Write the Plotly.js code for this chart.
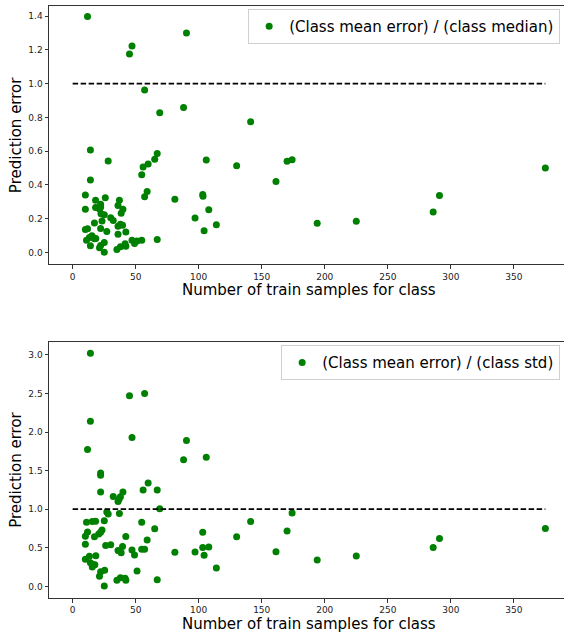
<!DOCTYPE html>
<html>
<head>
<meta charset="utf-8">
<script src="https://cdn.plot.ly/plotly-3.0.1.min.js"></script>
<style>
  html, body { margin: 0; padding: 0; overflow: hidden; background: #fff; }
  #chart { width: 570px; height: 634px; }
</style>
</head>
<body>
<div id="chart"></div>
<script>
// ---- Data: top panel (class mean error / class median) ----
const medianX = [11.8, 90.3, 47.1, 45.1, 57.1, 88.0, 69.1, 141.2, 14.1, 67.1, 28.2, 65.1, 106, 174.1, 170.1, 59.9, 55.9, 130.1, 375, 54.8,
  161.3, 14.1, 59.1, 57.1, 10.1, 103.2, 103.4, 291, 81.1, 286, 108, 97.1, 194, 225, 114, 104.3, 67.1,
  10.1, 10.1, 11.8, 11, 13.3, 14.1, 15.3, 16.2, 17.3, 18.4, 17.3, 18.2, 18.2, 22.2, 22.2, 21.3, 22.5, 25.1, 25.9, 23.3,
  22.2, 27.1, 25.1, 22.2, 21.3, 25.1, 30.2, 32.2, 37.1, 36, 39.9, 38.5, 36, 37.9, 39.6, 42.2, 36, 35.1, 37.9, 41.6,
  42.2, 47.1, 49.1, 51.1, 54.8];
const medianY = [1.397, 1.30, 1.222, 1.175, 0.962, 0.859, 0.827, 0.774, 0.607, 0.587, 0.542, 0.552, 0.548, 0.550, 0.540, 0.524, 0.506, 0.514, 0.500, 0.460,
  0.421, 0.429, 0.361, 0.331, 0.341, 0.343, 0.333, 0.337, 0.315, 0.240, 0.254, 0.204, 0.173, 0.185, 0.165, 0.129, 0.077,
  0.256, 0.137, 0.141, 0.073, 0.089, 0.040, 0.100, 0.089, 0.081, 0.083, 0.175, 0.310, 0.266, 0.286, 0.268, 0.258, 0.230, 0.224, 0.325, 0.187,
  0.143, 0.125, 0.060, 0.042, 0.028, 0.002, 0.206, 0.190, 0.310, 0.278, 0.256, 0.232, 0.155, 0.167, 0.161, 0.121, 0.109, 0.018, 0.034, 0.052,
  0.038, 0.073, 0.054, 0.069, 0.073];

// ---- Data: bottom panel (class mean error / class std) ----
const stdX = [14.1, 45.1, 57.1, 14.1, 11.8, 47.1, 90.3, 88, 106, 22.2, 22.2, 59.9, 55.9, 67.1, 22.2, 32.2, 36, 36.8, 37.9, 39.9,
  69.1, 27.1, 28.2, 37.1, 174.1, 11, 15.6, 18.2, 25.1, 54.8, 141.2, 65.1, 375, 11.8, 10.1, 22.2, 23.3, 20.7, 17.3, 103.2,
  170.1, 42.2, 130.1, 291, 59.1, 10.1, 26.2, 30.2, 39.6, 36, 38.5, 47.1, 49.1, 54.8, 57.1, 81.1, 97.1, 103.2, 104.3, 108,
  161.3, 286, 194, 225, 10.1, 13.3, 18.4, 14.1, 15.6, 17.6, 16.1, 114, 25.4, 22.2, 21.3, 51.1, 25.1, 35.1, 37.9, 41.6, 42.2, 67.1];
const stdY = [3.02, 2.47, 2.50, 2.14, 1.775, 1.93, 1.89, 1.64, 1.675, 1.47, 1.44, 1.34, 1.25, 1.25, 1.222, 1.165, 1.10, 1.13, 1.16, 1.222,
  1.005, 0.965, 0.937, 0.943, 0.95, 0.83, 0.84, 0.845, 0.85, 0.832, 0.84, 0.745, 0.75, 0.705, 0.65, 0.70, 0.73, 0.68, 0.642, 0.70,
  0.717, 0.645, 0.642, 0.62, 0.60, 0.545, 0.528, 0.54, 0.518, 0.465, 0.435, 0.47, 0.405, 0.482, 0.482, 0.442, 0.446, 0.505, 0.403, 0.51,
  0.45, 0.505, 0.343, 0.395, 0.352, 0.39, 0.398, 0.305, 0.252, 0.28, 0.284, 0.237, 0.21, 0.19, 0.13, 0.198, 0.004, 0.078, 0.113, 0.105, 0.08, 0.087];

// reference line y = 1 from x = 0 to the largest class
const refLineX = [0, 375];
const refLineY = [1, 1];

const xTicks = [0, 50, 100, 150, 200, 250, 300, 350];
const topYTicks = [0.0, 0.2, 0.4, 0.6, 0.8, 1.0, 1.2, 1.4];
const botYTicks = [0.0, 0.5, 1.0, 1.5, 2.0, 2.5, 3.0];

const FONT = 'DejaVu Sans, sans-serif';
const GREEN = '#008000';

const traces = [
  { x: medianX, y: medianY, type: 'scatter', mode: 'markers', name: '(Class mean error) / (class median)',
    marker: { color: GREEN, size: 7 }, xaxis: 'x', yaxis: 'y', legend: 'legend' },
  { x: refLineX, y: refLineY, type: 'scatter', mode: 'lines', showlegend: false,
    line: { color: '#000', width: 1.8, dash: '5.5px,2.5px' }, xaxis: 'x', yaxis: 'y' },
  { x: stdX, y: stdY, type: 'scatter', mode: 'markers', name: '(Class mean error) / (class std)',
    marker: { color: GREEN, size: 7 }, xaxis: 'x2', yaxis: 'y2', legend: 'legend2' },
  { x: refLineX, y: refLineY, type: 'scatter', mode: 'lines', showlegend: false,
    line: { color: '#000', width: 1.8, dash: '5.5px,2.5px' }, xaxis: 'x2', yaxis: 'y2' }
];

const axisCommon = {
  showline: true, mirror: true, linecolor: '#333', linewidth: 1,
  showgrid: false, zeroline: false,
  ticks: 'outside', ticklen: 3.5, tickwidth: 1, tickcolor: '#333',
  tickfont: { family: FONT, size: 9, color: '#222' }
};

const legendCommon = {
  xanchor: 'right', yanchor: 'top', x: 0.983,
  bgcolor: '#fff', bordercolor: '#d0d0d0', borderwidth: 1,
  font: { family: FONT, size: 15, color: '#000' }
};

const layout = {
  width: 570, height: 634,
  margin: { l: 49, r: 1, t: 6, b: 36 },
  paper_bgcolor: '#fff', plot_bgcolor: '#fff',
  font: { family: FONT, color: '#000' },
  xaxis: Object.assign({}, axisCommon, { domain: [0, 1], anchor: 'y', range: [-18.75, 393.75], tickvals: xTicks }),
  yaxis: Object.assign({}, axisCommon, { domain: [0.5637, 1], anchor: 'x', range: [-0.0695, 1.4595], tickvals: topYTicks, tickformat: '.1f' }),
  xaxis2: Object.assign({}, axisCommon, { domain: [0, 1], anchor: 'y2', range: [-18.75, 393.75], tickvals: xTicks }),
  yaxis2: Object.assign({}, axisCommon, { domain: [0, 0.4329], anchor: 'x2', range: [-0.151, 3.171], tickvals: botYTicks, tickformat: '.1f' }),
  legend: Object.assign({}, legendCommon, { y: 0.995 }),
  legend2: Object.assign({}, legendCommon, { y: 0.427 }),
  annotations: [
    { text: 'Number of train samples for class', xref: 'paper', yref: 'paper', x: 0.5, y: 0.5203,
      xanchor: 'center', yanchor: 'middle', showarrow: false, font: { family: FONT, size: 15, color: '#000' } },
    { text: 'Number of train samples for class', xref: 'paper', yref: 'paper', x: 0.5, y: -0.0439,
      xanchor: 'center', yanchor: 'middle', showarrow: false, font: { family: FONT, size: 15, color: '#000' } },
    { text: 'Prediction error', xref: 'paper', yref: 'paper', x: -0.0635, y: 0.7818, textangle: -90,
      xanchor: 'center', yanchor: 'middle', showarrow: false, font: { family: FONT, size: 15, color: '#000' } },
    { text: 'Prediction error', xref: 'paper', yref: 'paper', x: -0.0635, y: 0.2165, textangle: -90,
      xanchor: 'center', yanchor: 'middle', showarrow: false, font: { family: FONT, size: 15, color: '#000' } }
  ]
};

Plotly.newPlot('chart', traces, layout, { staticPlot: true, displayModeBar: false });
</script>
</body>
</html>
